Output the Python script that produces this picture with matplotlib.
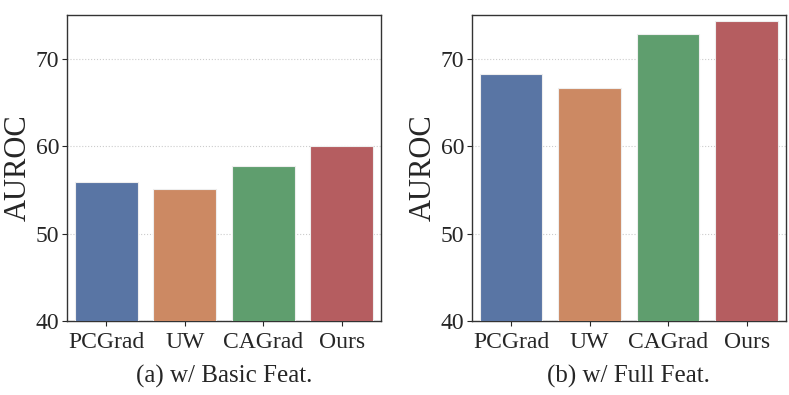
import numpy as np
import matplotlib
matplotlib.use("Agg")
import matplotlib.pyplot as plt
import seaborn as sns

methods = ["PCGrad", "UW", "CAGrad", "Ours"]
auroc_basic = [55.9, 55.1, 57.7, 60.0]
auroc_full = [68.3, 66.6, 72.8, 74.3]
panel_titles = ["(a) w/ Basic Feat.", "(b) w/ Full Feat."]

sns.set_style("ticks")
plt.rcParams['font.family'] = ['Liberation Serif', 'DejaVu Serif']

colors = sns.color_palette("deep", 4)
colors = [sns.desaturate(c, 0.75) for c in colors]

fig = plt.figure(figsize=(7.89, 3.95), dpi=100)
axes = [fig.add_axes([0.085, 0.187, 0.398, 0.775]),
        fig.add_axes([0.598, 0.187, 0.398, 0.775])]

for ax, vals, title in zip(axes, [auroc_basic, auroc_full], panel_titles):
    x = np.arange(len(methods))
    ax.bar(x, vals, width=0.8, color=colors, edgecolor="#eeeeee",
           linewidth=0.8, zorder=3)
    ax.set_xticks(x)
    ax.set_xticklabels(methods, fontsize=17)
    ax.set_xlim(-0.5, 3.5)
    ax.set_ylim(40, 75)
    ax.set_yticks([40, 50, 60, 70])
    ax.tick_params(axis='y', labelsize=17, pad=2)
    ax.tick_params(axis='x', pad=4)
    ax.set_ylabel("AUROC", fontsize=22, labelpad=2)
    ax.set_xlabel(title, fontsize=18, labelpad=9)
    ax.yaxis.grid(True, linestyle=':', color='#cccccc', linewidth=0.8, zorder=0)
    for s in ax.spines.values():
        s.set_color('#333333')
        s.set_linewidth(1.0)

fig.savefig("out.png", dpi=100)
